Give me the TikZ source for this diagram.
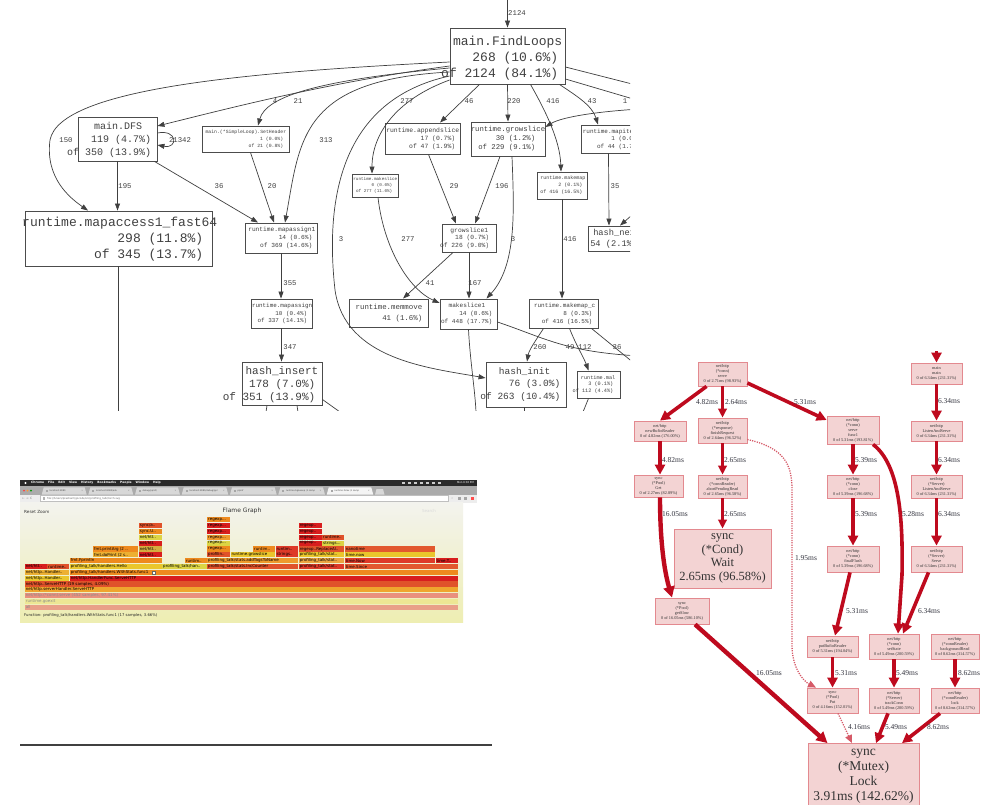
\documentclass[tikz,border=0pt]{standalone}
\usepackage{fontspec}
\usetikzlibrary{arrows.meta}
\newfontfamily\gmono{Liberation Mono}
\newfontfamily\gserif{Liberation Serif}
\newfontfamily\gsans{DejaVu Sans}
\newcommand\fsz[2]{\fontsize{#1}{#2}\selectfont}
\newcounter{fbc}
\definecolor{redge}{HTML}{BE0A1E}
\definecolor{rfill}{HTML}{F3D3D3}
\definecolor{rdraw}{HTML}{E3898F}
\definecolor{rdotc}{HTML}{D65A68}
\definecolor{rtext}{HTML}{33343F}
\definecolor{chdark}{HTML}{2A2A2A}
\definecolor{tabstrip}{HTML}{ABABAB}
\definecolor{tabc}{HTML}{D8D8D8}
\definecolor{tabact}{HTML}{F4F4F4}
\definecolor{addr}{HTML}{EDEDED}
\definecolor{flametop}{HTML}{F3F3EE}
\definecolor{flamebot}{HTML}{EEEEB2}
\definecolor{fall}{HTML}{E9A088}
\definecolor{fgo}{HTML}{EDE794}
\definecolor{fsv}{HTML}{E9907E}
\definecolor{fsh}{HTML}{EFA52E}
\definecolor{fro}{HTML}{E0522A}
\definecolor{fyel}{HTML}{EAC62C}
\definecolor{fred}{HTML}{D81E1E}
\definecolor{forg}{HTML}{EE8A1E}
\definecolor{fyo}{HTML}{EDB032}
\definecolor{fylg}{HTML}{DCD444}
\definecolor{frd2}{HTML}{DE3A28}
\definecolor{fro2}{HTML}{E2582E}
\definecolor{fo2}{HTML}{EE9A2C}
\definecolor{fo3}{HTML}{ECA440}
\definecolor{fbrn}{HTML}{D4AC40}
\newcommand\fbar[5]{%
  \stepcounter{fbc}%
  \fill[#4] ({20+#2/3},{604.7-#1*5.83}) rectangle ({20+#3/3},{609.9-#1*5.83});
  \begin{scope}
    \clip ({20+#2/3},{604.7-#1*5.83}) rectangle ({20+#3/3},{609.9-#1*5.83});
    \node[ftext] (fb\arabic{fbc}) at ({20.7+#2/3},{607.35-#1*5.83}) {#5};
  \end{scope}}
\newcommand\chtab[5]{%
  \fill[#3] (#1,494.7) -- ({#1+2},487.4) -- ({#2-2},487.4) -- (#2,494.7) -- cycle;
  \fill[black!35] ({#1+4},489.9) rectangle ({#1+6},491.9);
  \node[tabtxt] (#5) at ({#1+7.5},490.9) {#4};
  \node[tabtxt, anchor=center, text=black!50] (#5x) at ({#2-4.5},490.9) {×};}
\tikzset{
  gbox/.style={draw=black!70, line width=0.9pt, fill=white, inner sep=0pt},
  gtxt/.style={inner sep=0pt, align=right, text=black!75, anchor=east},
  glab/.style={font=\gmono\fsz{7.3}{8}, inner sep=0pt, text=black!75},
  gline/.style={draw=black!75, line width=0.7pt},
  garr/.style={gline, -{Triangle[length=7pt,width=5pt]}},
  rbox/.style={draw=rdraw, fill=rfill, line width=0.8pt, inner sep=0pt, align=center,
    text=black!80, font=\gserif\fsz{4.3}{5}},
  rlab/.style={font=\gserif\fsz{7.5}{8}, inner sep=0pt, text=rtext},
  rarr/.style={draw=redge, line width=3.6pt, -{Triangle[length=10pt,width=10pt]}},
  rarrthin/.style={draw=redge, line width=2.6pt, -{Triangle[length=9pt,width=8.5pt]}},
  rarrfat/.style={draw=redge, line width=4.4pt, -{Triangle[length=11pt,width=11pt]}},
  rdot/.style={draw=rdotc, line width=1.3pt, dash pattern=on 1.2pt off 1.2pt,
    -{Triangle[length=8pt,width=7pt]}},
  ftext/.style={font=\gsans\fsz{4}{4.5}, inner sep=0pt, anchor=west, text=black},
  chtxt/.style={inner sep=0pt, font=\gsans\fsz{2.6}{3}},
  tabtxt/.style={inner sep=0pt, anchor=west, text=black!70, font=\gsans\fsz{2.2}{2.6}},
}
\begin{document}
\begin{tikzpicture}[x=1pt,y=-1pt]
\useasboundingbox (0,0) rectangle (990,805);
\fill[white] (0,0) rectangle (990,805);

%================ top call graph (clipped screenshot) ================
\begin{scope}
\clip (0,0) rectangle (630,410);
% nodes
\node[gbox, minimum width=115pt, minimum height=56pt] (fl) at (507.5,56) {};
\node[gtxt, font=\gmono\fsz{13}{16}] (flt) at ([xshift=-7pt,yshift=-2pt]fl.east) {main.FindLoops\kern-4pt\\268 (10.6\%)\\of 2124 (84.1\%)};
\node[gbox, minimum width=79pt, minimum height=44pt] (dfs) at (117.5,139) {};
\node[gtxt, font=\gmono\fsz{10}{13}] (dfst) at ([xshift=-6pt,yshift=-1pt]dfs.east) {main.DFS\kern9pt\\119 (4.7\%)\\of 350 (13.9\%)};
\node[gbox, minimum width=87pt, minimum height=26pt] (sh) at (245.5,139) {};
\node[gtxt, font=\gmono\fsz{4.8}{7}] (sht) at ([xshift=-6pt]sh.east) {main.(*SimpleLoop).SetHeader\kern-3pt\\1 (0.0\%)\\of 21 (0.8\%)};
\node[gbox, minimum width=187pt, minimum height=55pt] (ma) at (118.5,238.5) {};
\node[gtxt, font=\gmono\fsz{13}{16}] (mat) at ([xshift=-9pt,yshift=-1pt]ma.east) {runtime.mapaccess1\_fast64\kern-14pt\\298 (11.8\%)\\of 345 (13.7\%)};
\node[gbox, minimum width=72pt, minimum height=30pt] (m1) at (281,238) {};
\node[gtxt, font=\gmono\fsz{6.2}{8}] (m1t) at ([xshift=-5pt]m1.east) {runtime.mapassign1\kern-3pt\\14 (0.6\%)\\of 369 (14.6\%)};
\node[gbox, minimum width=61pt, minimum height=29pt] (m0) at (281.5,313.5) {};
\node[gtxt, font=\gmono\fsz{5.9}{7.5}] (m0t) at ([xshift=-5pt]m0.east) {runtime.mapassign\kern-5pt\\10 (0.4\%)\\of 337 (14.1\%)};
\node[gbox, minimum width=80pt, minimum height=43pt] (hi) at (282,383.5) {};
\node[gtxt, font=\gmono\fsz{11}{13}] (hit) at ([xshift=-7pt,yshift=-1pt]hi.east) {hash\_insert\kern-3pt\\178 (7.0\%)\\of 351 (13.9\%)};
\node[gbox, minimum width=75pt, minimum height=31pt] (as) at (422.5,138.5) {};
\node[gtxt, font=\gmono\fsz{6.4}{8}] (ast) at ([xshift=-5pt]as.east) {runtime.appendslice\kern-4pt\\17 (0.7\%)\\of 47 (1.9\%)};
\node[gbox, minimum width=74pt, minimum height=34pt] (gs) at (508,139) {};
\node[gtxt, font=\gmono\fsz{7.3}{9}] (gst) at ([xshift=-10pt]gs.east) {runtime.growslice\kern-10pt\\30 (1.2\%)\\of 229 (9.1\%)};
\node[gbox, minimum width=71pt, minimum height=28pt] (mi) at (616.5,139) {};
\node[gtxt, font=\gmono\fsz{6}{7.5}] (mit) at ([xshift=-12pt]mi.east) {runtime.mapiterinit\kern-11pt\\1 (0.0\%)\\of 44 (1.7\%)};
\node[gbox, minimum width=46pt, minimum height=23pt] (mk) at (375,185.5) {};
\node[gtxt, font=\gmono\fsz{4.3}{6}] (mkt) at ([xshift=-6pt]mk.east) {runtime.makeslice\kern-5pt\\0 (0.0\%)\\of 277 (11.0\%)};
\node[gbox, minimum width=50pt, minimum height=27pt] (mm) at (562,185.5) {};
\node[gtxt, font=\gmono\fsz{5}{7}] (mmt) at ([xshift=-5pt]mm.east) {runtime.makemap\kern-3pt\\2 (0.1\%)\\of 416 (16.5\%)};
\node[gbox, minimum width=54pt, minimum height=28pt] (g1) at (469,238) {};
\node[gtxt, font=\gmono\fsz{6.3}{7.5}] (g1t) at ([xshift=-7pt]g1.east) {growslice1\kern1pt\\18 (0.7\%)\\of 226 (9.0\%)};
\node[gbox, minimum width=79pt, minimum height=28pt] (mv) at (388.5,313) {};
\node[gtxt, font=\gmono\fsz{7.4}{11}] (mvt) at ([xshift=-6pt]mv.east) {runtime.memmove\\41 (1.6\%)};
\node[gbox, minimum width=57pt, minimum height=30pt] (s1) at (468.5,314) {};
\node[gtxt, font=\gmono\fsz{6.1}{8}] (s1t) at ([xshift=-5pt]s1.east) {makeslice1\kern7pt\\14 (0.6\%)\\of 448 (17.7\%)};
\node[gbox, minimum width=69pt, minimum height=29pt] (mc) at (563.5,313.5) {};
\node[gtxt, font=\gmono\fsz{6}{8}] (mct) at ([xshift=-6pt]mc.east) {runtime.makemap\_c\kern-3pt\\8 (0.3\%)\\of 416 (16.5\%)};
\node[gbox, minimum width=80pt, minimum height=45pt] (hn) at (526,384.5) {};
\node[gtxt, font=\gmono\fsz{9.5}{12.5}] (hnt) at ([xshift=-6pt]hn.east) {hash\_init\kern10pt\\76 (3.0\%)\\of 263 (10.4\%)};
\node[gbox, minimum width=43pt, minimum height=27pt] (ml) at (598.5,384.5) {};
\node[gtxt, font=\gmono\fsz{5.2}{6.5}] (mlt) at ([xshift=-7pt]ml.east) {runtime.mal\kern-2pt\\3 (0.1\%)\\of 112 (4.4\%)};
\node[gbox, minimum width=62pt, minimum height=25pt] (hx) at (619,238.5) {};
\node[gtxt, font=\gmono\fsz{8.7}{11}] (hxt) at ([xshift=-13pt]hx.east) {hash\_next\kern-3pt\\54 (2.1\%)};

% edges
\coordinate (tin) at (507.5,0);
\draw[garr] (tin) -- (fl.north);
\draw[garr] ([yshift=-6pt]fl.west) .. controls (250,72) and (60,88) .. (50,140) .. controls (45,178) and (70,198) .. ([xshift=-30.5pt]ma.north);
\draw[garr] ([yshift=-10pt]fl.west) .. controls (330,82) and (230,108) .. ([yshift=13pt]dfs.east);
\draw[garr] ([yshift=-12pt]fl.west) .. controls (320,80) and (266,96) .. ([xshift=12.5pt]sh.north);
\draw[garr] ([yshift=-16pt]fl.west) .. controls (300,80) and (300,140) .. ([xshift=4pt]m1.north);
\draw[garr] ([yshift=-20pt]fl.west) .. controls (340,100) and (325,200) .. (335,290) .. controls (345,360) and (430,368) .. ([yshift=6.5pt]hn.west);
\draw[garr] ([yshift=-24pt]fl.west) .. controls (395,100) and (372,135) .. ([xshift=-3pt]mk.north);
\draw[garr] ([xshift=-28pt]fl.south) -- ([xshift=17.5pt]as.north);
\draw[garr] (fl.south) -- (gs.north);
\draw[garr] ([xshift=23pt]fl.south) .. controls (545,110) and (560,140) .. ([xshift=-1pt]mm.north);
\draw[garr] ([xshift=52pt]fl.south) .. controls (575,95) and (592,105) .. ([xshift=-18.5pt]mi.north);
\coordinate (rin) at (640,109);
\draw[garr] (rin) .. controls (590,112) and (560,118) .. ([yshift=12pt]gs.east);
\coordinate (rout1) at (640,86);
\coordinate (rout2) at (640,101);
\draw[gline] ([yshift=-11pt]fl.east) -- (rout1);
\draw[gline] ([yshift=-23pt]fl.east) -- (rout2);
\draw[garr] (dfs.south) -- ([xshift=-1pt]ma.north);
\draw[garr] ([xshift=37pt]dfs.south) -- ([xshift=-23pt]m1.north);
\draw[garr] ([xshift=5pt]sh.south) -- ([xshift=-7pt]m1.north);
\draw[garr] ([yshift=6pt]dfs.east) .. controls (178,129) and (178,149) .. ([yshift=-6pt]dfs.east);
\draw[garr] (m1.south) -- ([xshift=-0.5pt]m0.north);
\draw[garr] (m0.south) -- ([xshift=-0.5pt]hi.north);
\draw[garr] ([xshift=6pt]as.south) -- ([xshift=-13pt]g1.north);
\draw[garr] ([xshift=-8pt]gs.south) -- ([xshift=6pt]g1.north);
\draw[garr] ([xshift=4pt]gs.south) .. controls (514,210) and (517,265) .. ([xshift=18pt]s1.north);
\draw[garr] ([xshift=3pt]mk.south) .. controls (384,250) and (410,290) .. ([yshift=11pt]s1.west);
\draw[garr] ([xshift=-16pt]g1.south) -- ([xshift=14.5pt]mv.north);
\draw[garr] (g1.south) -- ([xshift=0.5pt]s1.north);
\draw[garr] (mm.south) -- ([xshift=-1.5pt]mc.north);
\draw[garr] ([xshift=-8pt]mi.south) -- ([xshift=-10pt]hx.north);
\coordinate (hxin) at (640,208);
\draw[garr] (hxin) -- ([xshift=1pt]hx.north);
\draw[garr] ([xshift=-20pt]mc.south) .. controls (536,340) and (529,350) .. ([xshift=1pt]hn.north);
\draw[garr] ([xshift=6pt]mc.south) .. controls (576,345) and (584,358) .. ([xshift=-10pt]ml.north);
\coordinate (c36) at (640,368);
\draw[gline] ([xshift=28pt]mc.south) -- (c36);
\coordinate (c49) at (640,356);
\draw[gline] ([yshift=-8pt]s1.east) .. controls (545,338) and (565,352) .. (c49);
\coordinate (cb1) at (476,412);
\draw[gline] (s1.south) .. controls (470,360) and (475,390) .. (cb1);
\coordinate (cb2) at (118.5,412);
\draw[gline] (ma.south) -- (cb2);
\coordinate (cb3) at (340,412);
\draw[gline] ([yshift=-16pt]hi.east) -- (cb3);
\coordinate (cb4) at (266,412);
\draw[gline] ([xshift=-15pt]hi.south) -- (cb4);
\coordinate (cb5) at (298,412);
\draw[gline] ([xshift=15pt]hi.south) -- (cb5);
\coordinate (cb6) at (524,412);
\draw[gline] ([xshift=-2pt]hn.south) -- (cb6);
\coordinate (cb7) at (583,412);
\draw[gline] ([xshift=-10pt]ml.south) -- (cb7);
% labels
\node[glab] (la1) at (517,13) {2124};
\node[glab] (la2) at (275,101) {4};
\node[glab] (la3) at (298,101) {21};
\node[glab] (la4) at (66,140) {150};
\node[glab] (la5) at (180,140) {21342};
\node[glab] (la6) at (326,140) {313};
\node[glab] (la7) at (125,186) {195};
\node[glab] (la8) at (219,186) {36};
\node[glab] (la9) at (272,186) {20};
\node[glab] (la10) at (407,101) {277};
\node[glab] (la11) at (469,101) {46};
\node[glab] (la12) at (514,101) {220};
\node[glab] (la13) at (553,101) {416};
\node[glab] (la14) at (592,101) {43};
\node[glab] (la15) at (625,101) {1};
\node[glab] (la16) at (454,186) {29};
\node[glab] (la17) at (502,186) {196};
\node[glab] (la18) at (615,186) {35};
\node[glab] (la19) at (341,239) {3};
\node[glab] (la20) at (408,239) {277};
\node[glab] (la21) at (513,239) {3};
\node[glab] (la22) at (570,239) {416};
\node[glab] (la23) at (430,283) {41};
\node[glab] (la24) at (475,283) {167};
\node[glab] (la25) at (290,283) {355};
\node[glab] (la26) at (540,347) {260};
\node[glab] (la27) at (570,347) {49};
\node[glab] (la28) at (585,347) {112};
\node[glab] (la29) at (617,347) {36};
\node[glab] (la30) at (290,347) {347};
\end{scope}

%================ flame graph browser screenshot ================
\fill[chdark] (20,479.7) rectangle (476.5,486.2);
\fill[white] (25.5,483) circle (1.2);
\node[chtxt, anchor=west, text=white, font=\gsans\bfseries\fsz{3}{3.5}] (menu) at (31,483) {Chrome\hspace{4pt}File\hspace{4pt}Edit\hspace{4pt}View\hspace{4pt}History\hspace{4pt}Bookmarks\hspace{4pt}People\hspace{4pt}Window\hspace{4pt}Help};
\foreach \ix in {402,408,414,420,426,432,438} {\fill[white!80!black] (\ix,481.8) rectangle ({\ix+3.2},484.2);}
\node[chtxt, anchor=east, text=white] (clock) at (474,483) {Mon 6:30 PM};
\fill[tabstrip] (20,486.2) rectangle (476.5,494.7);
\fill[red!75] (24,490.6) circle (1.1);
\fill[orange!80] (27.5,490.6) circle (1.1);
\fill[green!60!black] (31,490.6) circle (1.1);
\chtab{41.7}{86.7}{tabc}{localhost:8080}{tab1}
\chtab{88.3}{133.3}{tabc}{localhost:8080/adv}{tab2}
\chtab{135}{180}{tabc}{debug/pprof/}{tab3}
\chtab{181.7}{228.3}{tabc}{localhost:8080/debug/ppr}{tab4}
\chtab{230}{276.7}{tabc}{pprof}{tab5}
\chtab{278.3}{325}{tabc}{runtime.bgsweep (1 samp}{tab6}
\chtab{326.7}{373.3}{tabact}{runtime.futex (1 samp}{tab7}
\fill[tabc] (375,494.7) -- (376.5,489) -- (383,489) -- (384.5,494.7) -- cycle;
\fill[addr] (20,494.7) rectangle (476.5,502.5);
\node[chtxt, anchor=west, text=black!50, font=\gsans\fsz{3}{3.5}] (nav) at (22,498.6) {←\hspace{1.5pt}→\hspace{1.5pt}C};
\filldraw[fill=white, draw=black!25, line width=0.3pt] (40,495.6) rectangle (448,501.6);
\fill[black!30] (43,497.4) rectangle (45,499.8);
\node[chtxt, anchor=west, text=black!60] (url) at (47,498.6) {file:///Users/prashant/gocode/src/profiling\_talk/torch.svg};
\node[chtxt, anchor=west, text=black!45] (star) at (451,498.6) {☆};
\fill[black!35] (458,497) rectangle (461,500.2);
\fill[black!35] (464,497) rectangle (467,500.2);
\fill[red!70] (471,497) rectangle (474,500.2);
\shade[top color=flametop, bottom color=flamebot] (20,502.5) rectangle (463,622);
\node[inner sep=0pt, font=\gsans\fsz{6}{7}, text=black!80] (fgt) at (242,511) {Flame Graph};
\node[inner sep=0pt, anchor=west, font=\gsans\fsz{4.2}{5}, text=black!80] (rz) at (24,511.5) {Reset Zoom};
\node[inner sep=0pt, anchor=west, font=\gsans\fsz{4}{5}, text=black!15] (srch) at (422,511.5) {Search};
\fbar{0}{15}{1315}{fall}{\textcolor{black!45}{all}}
\fbar{1}{15}{1315}{fgo}{\textcolor{black!45}{runtime.goexit}}
\fbar{2}{15}{1315}{fsv}{\textcolor{black!45}{net/http.(*conn).serve (452 samples, 97.41\%)}}
\fbar{3}{15}{1315}{fsh}{net/http.serverHandler.ServeHTTP}
\fbar{4}{15}{1315}{fro}{net/http..ServeHTTP (19 samples, 4.09\%)}
\fbar{5}{15}{148}{fyel}{net/http..Handler..}
\fbar{5}{150}{1315}{fred}{net/http.HandlerFunc.ServeHTTP}
\fbar{6}{15}{148}{fyo}{net/http..Handler..}
\fbar{6}{150}{1315}{forg}{profiling\_talk/handlers.WithStats.func1}
\fbar{7}{15}{80}{fred}{net/htt..}
\fbar{7}{82}{148}{fro}{runtime..}
\fbar{7}{150}{425}{fyel}{profiling\_talk/handlers.Hello}
\fbar{7}{427}{560}{fylg}{profiling\_talk/han..}
\fbar{7}{562}{835}{fro}{profiling\_talk/stats.IncCounter}
\fbar{7}{837}{972}{frd2}{profiling\_talk/stat..}
\fbar{7}{975}{1315}{fro2}{time.Since}
\fbar{8}{150}{425}{forg}{fmt.Fprintln}
\fbar{8}{495}{560}{forg}{runtim..}
\fbar{8}{562}{835}{fo2}{profiling\_talk/stats.addTagsToName}
\fbar{8}{837}{972}{fo3}{profiling\_talk/stat..}
\fbar{8}{975}{1245}{frd2}{time.Now}
\fbar{8}{1247}{1315}{fred}{time.T..}
\fbar{9}{220}{355}{fyo}{fmt.doPrint (2 s..}
\fbar{9}{357}{425}{fred}{net/htt..}
\fbar{9}{562}{630}{fro}{profilin..}
\fbar{9}{632}{765}{fyel}{runtime.growslice}
\fbar{9}{767}{835}{frd2}{strings..}
\fbar{9}{837}{972}{fyel}{profiling\_talk/stat..}
\fbar{9}{975}{1245}{fyel}{time.now}
\fbar{10}{220}{355}{forg}{fmt.printArg (2 ..}
\fbar{10}{357}{425}{fbrn}{net/htt..}
\fbar{10}{562}{630}{forg}{regexp...}
\fbar{10}{700}{765}{forg}{runtim..}
\fbar{10}{767}{835}{frd2}{runtim..}
\fbar{10}{837}{972}{fro}{regexp..ReplaceAl..}
\fbar{10}{975}{1245}{fro2}{nanotime}
\fbar{11}{357}{425}{fred}{net/htt..}
\fbar{11}{562}{630}{fylg}{regexp...}
\fbar{11}{837}{905}{fred}{regexp..}
\fbar{11}{907}{972}{fylg}{strings...}
\fbar{12}{357}{425}{fylg}{net/htt..}
\fbar{12}{562}{630}{fo2}{regexp...}
\fbar{12}{837}{905}{fred}{regexp..}
\fbar{12}{907}{972}{fro}{runtime..}
\fbar{13}{357}{425}{forg}{sync.U..}
\fbar{13}{562}{630}{fred}{regexp...}
\fbar{13}{837}{905}{fred}{regexp..}
\fbar{14}{357}{425}{fro}{sync/a..}
\fbar{14}{562}{630}{fred}{regexp...}
\fbar{14}{837}{905}{fred}{regexp..}
\fbar{15}{562}{630}{forg}{regexp...}
\filldraw[fill=white, draw=black!60, line width=0.3pt] (152,570.8) rectangle (155.5,574);
\node[inner sep=0pt, anchor=west, font=\gsans\fsz{3.8}{4.5}, text=black!85] (fn) at (24,615) {Function: profiling\_talk/handlers.WithStats.func1 (17 samples, 3.66\%)};
\draw[line width=1.3pt, black!75] (20,745) -- (492,745);

%================ pprof web graph (red) ================
\node[rbox, minimum width=49pt, minimum height=24pt] (serve) at (722.5,374) {net/http\\(*conn)\\serve\\0 of 2.71ms (98.93\%)};
\node[rbox, minimum width=52pt, minimum height=20pt] (nbr) at (660,431) {net/http\\newBufioReader\\0 of 4.82ms (176.00\%)};
\node[rbox, minimum width=49pt, minimum height=25pt] (fin) at (722.5,430.5) {net/http\\(*response)\\finishRequest\\0 of 2.64ms (96.52\%)};
\node[rbox, minimum width=49pt, minimum height=22pt] (get) at (658.5,486) {sync\\(*Pool)\\Get\\0 of 2.27ms (82.89\%)};
\node[rbox, minimum width=49pt, minimum height=23pt] (abort) at (722.5,486.5) {net/http\\(*connReader)\\abortPendingRead\\0 of 2.65ms (96.58\%)};
\node[rbox, minimum width=97pt, minimum height=59pt, font=\gserif\fsz{12.5}{13.5}] (wait) at (722.5,558.5) {sync\\(*Cond)\\Wait\\2.65ms (96.58\%)};
\node[rbox, minimum width=54pt, minimum height=26pt] (gsl) at (682,611) {sync\\(*Pool)\\getSlow\\0 of 16.05ms (586.10\%)};
\node[rbox, minimum width=52pt, minimum height=28pt] (f1) at (853,430) {net/http\\(*conn)\\serve\\func1\\0 of 5.31ms (193.81\%)};
\node[rbox, minimum width=52pt, minimum height=23pt] (cls) at (853,486.5) {net/http\\(*conn)\\close\\0 of 5.39ms (196.68\%)};
\node[rbox, minimum width=52pt, minimum height=26pt] (ff) at (853,559) {net/http\\(*conn)\\finalFlush\\0 of 5.39ms (196.68\%)};
\node[rbox, minimum width=51pt, minimum height=21pt] (mainn) at (936.5,373.5) {main\\main\\0 of 6.34ms (231.31\%)};
\node[rbox, minimum width=51pt, minimum height=20pt] (las) at (936.5,431) {net/http\\ListenAndServe\\0 of 6.34ms (231.31\%)};
\node[rbox, minimum width=51pt, minimum height=23pt] (slas) at (936.5,486.5) {net/http\\(*Server)\\ListenAndServe\\0 of 6.34ms (231.31\%)};
\node[rbox, minimum width=51pt, minimum height=26pt] (srv) at (936.5,559) {net/http\\(*Server)\\Serve\\0 of 6.34ms (231.31\%)};
\node[rbox, minimum width=51pt, minimum height=21pt] (pbr) at (832.5,646.5) {net/http\\putBufioReader\\0 of 5.31ms (194.04\%)};
\node[rbox, minimum width=50pt, minimum height=25pt] (ss) at (894,646.5) {net/http\\(*conn)\\setState\\0 of 5.49ms (200.59\%)};
\node[rbox, minimum width=48pt, minimum height=25pt] (br) at (955,646.5) {net/http\\(*connReader)\\backgroundRead\\0 of 8.62ms (314.57\%)};
\node[rbox, minimum width=51pt, minimum height=25pt] (put) at (832.5,700.5) {sync\\(*Pool)\\Put\\0 of 4.16ms (152.01\%)};
\node[rbox, minimum width=50pt, minimum height=25pt] (tc) at (894,700.5) {net/http\\(*Server)\\trackConn\\0 of 5.49ms (200.59\%)};
\node[rbox, minimum width=48pt, minimum height=25pt] (lk) at (955,700.5) {net/http\\(*connReader)\\lock\\0 of 8.62ms (314.57\%)};
\node[rbox, minimum width=111pt, minimum height=65pt, font=\gserif\fsz{13.5}{15}] (lock) at (863.5,776) {sync\\(*Mutex)\\Lock\\3.91ms (142.62\%)};

\coordinate (mtop) at (936.5,351);
\draw[rarr] (mtop) -- (mainn.north);
\draw[rarr] ([xshift=-16pt]serve.south) -- (nbr.north);
\draw[rarrthin] (serve.south) -- (fin.north);
\draw[rarr] ([yshift=-9pt]serve.east) -- ([yshift=10pt]f1.west);
\draw[rarr] (nbr.south) -- ([xshift=1.5pt]get.north);
\draw[rarrthin] (fin.south) -- (abort.north);
\draw[rarrthin] (abort.south) -- (wait.north);
\draw[rarrfat] ([xshift=1.5pt]get.south) .. controls (660,540) and (664,570) .. ([xshift=-10pt]gsl.north);
\draw[rarrfat] ([xshift=13pt]gsl.south) -- ([xshift=-36pt]lock.north);
\draw[rarr] (f1.south) -- (cls.north);
\draw[rarr] (cls.south) -- (ff.north);
\draw[rarr] ([xshift=-3pt]ff.south) -- ([xshift=2.5pt]pbr.north);
\draw[rarr] ([xshift=20pt]f1.south) .. controls (900,465) and (903,520) .. (902,575) -- ([xshift=4pt]ss.north);
\draw[rarr] (mainn.south) -- (las.north);
\draw[rarr] (las.south) -- (slas.north);
\draw[rarr] (slas.south) -- (srv.north);
\draw[rarr] ([xshift=-8pt]srv.south) -- ([xshift=9pt]ss.north);
\draw[rarr] (pbr.south) -- (put.north);
\draw[rarr] (ss.south) -- (tc.north);
\draw[rarr] (br.south) -- (lk.north);
\draw[rarr] ([xshift=-6pt]tc.south) -- ([xshift=12.5pt]lock.north);
\draw[rarr] ([xshift=-15pt]lk.south) -- ([xshift=38.5pt]lock.north);
\draw[rdot] ([xshift=5.5pt]put.south) -- ([xshift=-11.5pt]lock.north);
\draw[rdot] ([yshift=-9pt]fin.east) .. controls (785,448) and (792,465) .. (792,490) -- (792,645) .. controls (792,670) and (805,682) .. ([xshift=-16.5pt]put.north);

\node[rlab] (r1) at (707,402) {4.82ms};
\node[rlab] (r2) at (736,402) {2.64ms};
\node[rlab] (r3) at (805,402) {5.31ms};
\node[rlab] (r4) at (673,460) {4.82ms};
\node[rlab] (r5) at (735,460) {2.65ms};
\node[rlab] (r6) at (735,514) {2.65ms};
\node[rlab] (r7) at (675,514) {16.05ms};
\node[rlab] (r8) at (769,673) {16.05ms};
\node[rlab] (r9) at (806,558) {1.95ms};
\node[rlab] (r10) at (866,460) {5.39ms};
\node[rlab] (r11) at (866,514) {5.39ms};
\node[rlab] (r12) at (913,514) {5.28ms};
\node[rlab] (r13) at (949,401) {6.34ms};
\node[rlab] (r14) at (949,460) {6.34ms};
\node[rlab] (r15) at (949,514) {6.34ms};
\node[rlab] (r16) at (857,611) {5.31ms};
\node[rlab] (r17) at (929,611) {6.34ms};
\node[rlab] (r18) at (846,673) {5.31ms};
\node[rlab] (r19) at (907,673) {5.49ms};
\node[rlab] (r20) at (969,673) {8.62ms};
\node[rlab] (r21) at (859,727) {4.16ms};
\node[rlab] (r22) at (896,727) {5.49ms};
\node[rlab] (r23) at (938,727) {8.62ms};
\end{tikzpicture}
\end{document}
